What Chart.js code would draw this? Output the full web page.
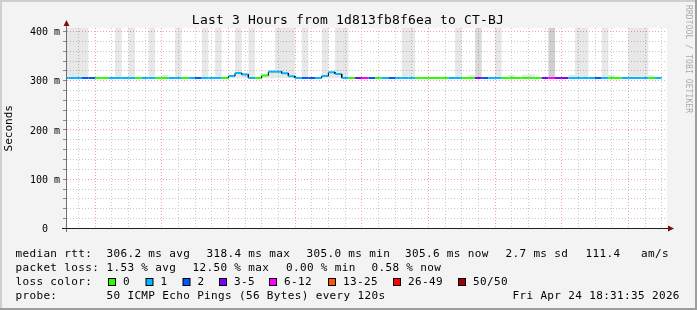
<!DOCTYPE html>
<html>
<head>
<meta charset="utf-8">
<script src="https://cdn.jsdelivr.net/npm/chart.js@4/dist/chart.umd.min.js"></script>
<style>
html,body{margin:0;padding:0;background:#f3f3f3;}
canvas{display:block;}
</style>
</head>
<body>
<canvas id="c" width="697" height="310"></canvas>
<script>
// ---------------- data ----------------
const chartTitle = 'Last 3 Hours from 1d813fb8f6ea to CT-BJ';
const yAxisTitle = 'Seconds';
const viewStart = '15:31:35';
const viewEnd = '18:31:35';
const stepMinutes = 2; // probe every 120 s

// start time of each 2-minute step
const stepTimes = [
 '15:30','15:32','15:34','15:36','15:38','15:40','15:42','15:44','15:46','15:48',
 '15:50','15:52','15:54','15:56','15:58','16:00','16:02','16:04','16:06','16:08',
 '16:10','16:12','16:14','16:16','16:18','16:20','16:22','16:24','16:26','16:28',
 '16:30','16:32','16:34','16:36','16:38','16:40','16:42','16:44','16:46','16:48',
 '16:50','16:52','16:54','16:56','16:58','17:00','17:02','17:04','17:06','17:08',
 '17:10','17:12','17:14','17:16','17:18','17:20','17:22','17:24','17:26','17:28',
 '17:30','17:32','17:34','17:36','17:38','17:40','17:42','17:44','17:46','17:48',
 '17:50','17:52','17:54','17:56','17:58','18:00','18:02','18:04','18:06','18:08',
 '18:10','18:12','18:14','18:16','18:18','18:20','18:22','18:24','18:26','18:28'
];

// median round-trip time per step (ms)
const medianMs = [
 305.5,305.5,305.5,305.5,305.5,305.5,305.5,305.5,305.5,305.5,
 305.5,305.5,305.5,305.5,305.5,305.5,305.5,305.5,305.5,305.5,
 305.5,305.5,305.5,305.5,305.5,309.5,315.6,312.6,305.5,305.5,
 310.6,318.4,318.4,315.0,309.3,305.5,305.5,305.5,305.5,309.7,
 317.0,313.7,305.5,305.5,305.5,305.5,305.5,305.5,305.5,305.5,
 305.5,305.5,305.5,305.5,305.5,305.5,305.5,305.5,305.5,305.5,
 305.5,305.5,305.5,305.5,305.5,305.5,305.5,305.5,305.5,305.5,
 305.5,305.5,305.5,305.5,305.5,305.5,305.5,305.5,305.5,305.5,
 305.5,305.5,305.5,305.5,305.5,305.5,305.5,305.5,305.5,305.6
];

// packet loss per step (%), 50 pings per step
const lossPct = [
 2,2,2,4,4,0,0,2,2,2,
 2,0,2,2,0,0,2,2,0,2,
 4,2,2,2,0,2,2,2,2,0,
 0,2,2,2,2,2,4,4,2,2,
 2,2,2,0,8,12.5,4,0,2,4,
 2,2,2,0,0,0,0,0,2,2,
 0,0,8,4,2,2,0,0,0,0,
 0,0,8,12.5,8,8,2,2,2,2,
 4,2,0,0,2,2,2,2,0,2
];

// smoke (spread of the individual pings) per step, ms; null = none visible
const smokeLow = [
 305,305,305,305,null,null,null,null,305,null,
 305,null,null,305,null,305,null,305,null,null,
 null,305,null,305,null,305,305,305,305,null,
 305,305,305,305,305,null,305,null,null,305,
 305,305,305,null,null,null,null,null,null,null,
 null,305,305,null,null,null,null,null,null,305,
 null,305,305,null,null,305,null,305,null,305,
 305,null,null,305,null,null,305,305,305,null,
 null,305,305,null,null,305,305,305,305,null
];
const smokeHigh = [
 450,450,450,450,null,null,null,null,450,null,
 450,null,null,450,null,312,null,450,null,null,
 null,450,null,450,null,312,450,315,450,null,
 313,321,450,450,450,null,450,null,null,450,
 319,450,450,null,null,null,null,null,null,null,
 null,450,450,null,null,null,null,null,null,450,
 null,312,450,null,null,450,null,312,null,312,
 313,null,null,450,null,null,312,450,450,null,
 null,450,312,null,null,450,450,450,311,null
];
// denser smoke layer (more pings in the high range)
const smokeDenseHigh = [
 null,null,null,null,null,null,null,null,null,null,
 null,null,null,null,null,null,null,null,null,null,
 null,null,null,null,null,null,null,null,null,null,
 null,null,null,null,null,null,null,null,null,null,
 null,null,null,null,null,null,null,null,null,null,
 null,null,null,null,null,null,null,null,null,null,
 null,null,450,null,null,null,null,null,null,null,
 null,null,null,450,null,null,null,null,null,null,
 null,null,null,null,null,null,null,null,null,null
];
const smokeDenseShade = {62: 0.05, 73: 0.1};

// axis ticks
const xMajorLabels = ['15:40','16:00','16:20','16:40','17:00','17:20','17:40','18:00','18:20'];
const yMajorValues = [0, 100, 200, 300, 400];
const yMajorLabels = ['0  ', '100 m', '200 m', '300 m', '400 m'];
const yTop = 407;

// loss colour legend
const lossBucketLabels = ['0', '1', '2', '3-5', '6-12', '13-25', '26-49', '50/50'];
const lossBucketMinPings = [0, 1, 2, 3, 6, 13, 26, 50];
const lossBucketColors = ['#26ff00', '#00b8ff', '#0059ff', '#7e00ff', '#ff00ff', '#ff5500', '#ff0000', '#a10000'];
const pingsPerStep = 50;

const legendLine1 = [['median rtt:', 15.5], ['306.2 ms avg', 106.5], ['318.4 ms max', 206.5], ['305.0 ms min', 306.5], ['305.6 ms now', 405], ['2.7 ms sd', 505.5], ['111.4', 585.5], ['am/s', 641]];
const legendLine2 = [['packet loss:', 15.5], ['1.53 % avg', 106.5], ['12.50 % max', 192.5], ['0.00 % min', 286], ['0.58 % now', 371.5]];
const legendLine4 = [['probe:', 15.5], ['50 ICMP Echo Pings (56 Bytes) every 120s', 106.5], ['Fri Apr 24 18:31:35 2026', 512.5]];
const watermark = 'RRDTOOL / TOBI OETIKER';

// ---------------- helpers ----------------
function toMin(t) {
  const p = t.split(':').map(Number);
  return (p[0] - 15) * 60 + p[1] + (p[2] || 0) / 60;
}
const xMin = toMin(viewStart), xMax = toMin(viewEnd);
const xMajorMin = xMajorLabels.map(toMin);
const xGrid = [];
for (let m = Math.ceil(xMin / 5) * 5; m <= xMax; m += 5) xGrid.push(m);
const yGrid = [];
for (let v = 0; v <= 400; v += 20) yGrid.push(v);

function lossColor(pct) {
  const pings = pct * pingsPerStep / 100;
  let c = lossBucketColors[0];
  for (let i = 0; i < lossBucketMinPings.length; i++) if (pings >= lossBucketMinPings[i] - 1e-9) c = lossBucketColors[i];
  return c;
}

const FONT = "'DejaVu Sans Mono', monospace";
const GRID = '#c9c9c9', MGRID = '#f3a3a3';

const linePoints = [];
stepTimes.forEach((t, j) => {
  const m = toMin(t);
  linePoints.push({x: m, y: medianMs[j]}, {x: m + stepMinutes, y: medianMs[j]});
});
const smokeData = stepTimes.map((t, j) => ({x: toMin(t) + stepMinutes / 2, y: smokeHigh[j] == null ? null : [smokeLow[j], smokeHigh[j]]}));
const denseData = stepTimes.map((t, j) => ({x: toMin(t) + stepMinutes / 2, y: smokeDenseHigh[j] == null ? null : [smokeLow[j], smokeDenseHigh[j]]}));
const denseColors = stepTimes.map((t, j) => 'rgba(0,0,0,' + (smokeDenseShade[j] || 0) + ')');

// ---------------- decorations ----------------
const decor = {
  id: 'decor',
  beforeDraw(chart) {
    const ctx = chart.ctx, a = chart.chartArea;
    ctx.save();
    ctx.fillStyle = '#f3f3f3'; ctx.fillRect(0, 0, 697, 310);
    ctx.fillStyle = '#cfcfcf'; ctx.fillRect(0, 0, 697, 2); ctx.fillRect(0, 0, 2, 310);
    ctx.fillStyle = '#9e9e9e'; ctx.fillRect(0, 308, 697, 2); ctx.fillRect(695, 0, 2, 310);
    ctx.fillStyle = '#ffffff'; ctx.fillRect(a.left, a.top, a.right - a.left, a.bottom - a.top);
    ctx.restore();
  },
  afterDraw(chart) {
    const ctx = chart.ctx, a = chart.chartArea;
    ctx.save();
    // axes
    ctx.lineWidth = 1;
    ctx.strokeStyle = '#707070';
    ctx.beginPath(); ctx.moveTo(a.left - 0.5, a.bottom + 3.5); ctx.lineTo(a.left - 0.5, 25); ctx.stroke();
    ctx.strokeStyle = '#202020';
    ctx.beginPath(); ctx.moveTo(62, a.bottom); ctx.lineTo(a.right + 1, a.bottom); ctx.stroke();
    ctx.fillStyle = '#7a1010';
    ctx.beginPath(); ctx.moveTo(a.left - 0.5, 20); ctx.lineTo(a.left - 3.5, 26); ctx.lineTo(a.left + 2.5, 26); ctx.closePath(); ctx.fill();
    ctx.beginPath(); ctx.moveTo(a.right + 7, a.bottom); ctx.lineTo(a.right + 1, a.bottom - 3); ctx.lineTo(a.right + 1, a.bottom + 3); ctx.closePath(); ctx.fill();
    // title
    ctx.fillStyle = '#000';
    ctx.font = '13px ' + FONT;
    ctx.letterSpacing = '0.18px';
    ctx.textAlign = 'center'; ctx.textBaseline = 'alphabetic';
    ctx.fillText(chartTitle, 348, 24);
    // legend
    ctx.font = '11px ' + FONT;
    ctx.letterSpacing = '0.35px';
    ctx.textAlign = 'left';
    legendLine1.forEach(([s, x]) => ctx.fillText(s, x, 257));
    legendLine2.forEach(([s, x]) => ctx.fillText(s, x, 271));
    ctx.fillText('loss color:', 15.5, 285);
    const boxX = [108, 145.5, 182.5, 219, 269, 328, 393, 458];
    lossBucketLabels.forEach((s, i) => {
      ctx.fillStyle = lossBucketColors[i];
      ctx.fillRect(boxX[i] + 0.5, 278.5, 7, 7);
      ctx.strokeStyle = '#000'; ctx.lineWidth = 1;
      ctx.strokeRect(boxX[i] + 0.5, 278.5, 7, 7);
      ctx.fillStyle = '#000';
      ctx.fillText(s, boxX[i] + 15, 285);
    });
    legendLine4.forEach(([s, x]) => ctx.fillText(s, x, 299));
    // watermark
    ctx.font = '8px ' + FONT;
    ctx.letterSpacing = '0.1px';
    ctx.fillStyle = '#aaaaaa';
    ctx.translate(688.5, 5);
    ctx.rotate(Math.PI / 2);
    ctx.textBaseline = 'middle';
    ctx.fillText(watermark, 0, 0);
    ctx.restore();
  }
};

// ---------------- chart ----------------
new Chart(document.getElementById('c'), {
  type: 'line',
  data: {
    datasets: [
      {
        type: 'line', label: 'median', data: linePoints, order: 0,
        pointRadius: 0, borderWidth: 2, tension: 0, borderCapStyle: 'butt',
        borderColor: '#00b8ff',
        segment: {
          borderColor: c => (c.p0DataIndex % 2 === 0 ? lossColor(lossPct[c.p0DataIndex / 2]) : '#000000'),
          borderWidth: c => (c.p0DataIndex % 2 === 0 ? 2 : 1)
        }
      },
      {
        type: 'bar', label: 'smoke dense', data: denseData, order: 1,
        backgroundColor: denseColors, borderWidth: 0, inflateAmount: 0,
        grouped: false, barPercentage: 1, categoryPercentage: 1
      },
      {
        type: 'bar', label: 'smoke', data: smokeData, order: 2,
        backgroundColor: 'rgba(0,0,0,0.095)', borderWidth: 0, inflateAmount: 0,
        grouped: false, barPercentage: 1, categoryPercentage: 1
      }
    ]
  },
  options: {
    responsive: false, animation: false, events: [], devicePixelRatio: 1,
    layout: {padding: {left: 0, top: 28, right: 30, bottom: 81.5}},
    plugins: {legend: {display: false}, tooltip: {enabled: false}, title: {display: false}},
    scales: {
      x: {
        type: 'linear', min: xMin, max: xMax, offset: false,
        afterBuildTicks: s => { s.ticks = xGrid.map(v => ({value: v})); },
        afterFit: s => { s.height = 0; },
        grid: {
          offset: false, drawTicks: false, lineWidth: 1,
          color: c => (c.tick && xMajorMin.some(m => Math.abs(m - c.tick.value) < 1e-6) ? MGRID : GRID)
        },
        border: {display: false, dash: [1, 2]},
        ticks: {
          autoSkip: false, maxRotation: 0, minRotation: 0, padding: 5,
          font: {family: FONT, size: 10}, color: '#000',
          callback: v => { const i = xMajorMin.findIndex(m => Math.abs(m - v) < 1e-6); return i >= 0 ? xMajorLabels[i] : ''; }
        }
      },
      y: {
        type: 'linear', min: 0, max: yTop,
        afterBuildTicks: s => { s.ticks = yGrid.map(v => ({value: v})); },
        afterFit: s => { s.width = 67; },
        grid: {
          drawTicks: true, tickLength: 4, tickColor: '#8a8a8a', tickBorderDash: [], lineWidth: 1,
          color: c => (c.tick && yMajorValues.includes(c.tick.value) ? MGRID : GRID)
        },
        border: {display: false, dash: [1, 2]},
        ticks: {
          autoSkip: false, padding: 3, labelOffset: 1,
          font: {family: FONT, size: 10}, color: '#000',
          callback: v => { const i = yMajorValues.indexOf(v); return i >= 0 ? yMajorLabels[i] : ''; }
        },
        title: {display: true, text: yAxisTitle, font: {family: FONT, size: 11}, color: '#000', padding: {top: 3, bottom: 0}}
      }
    }
  },
  plugins: [decor]
});
</script>
</body>
</html>
